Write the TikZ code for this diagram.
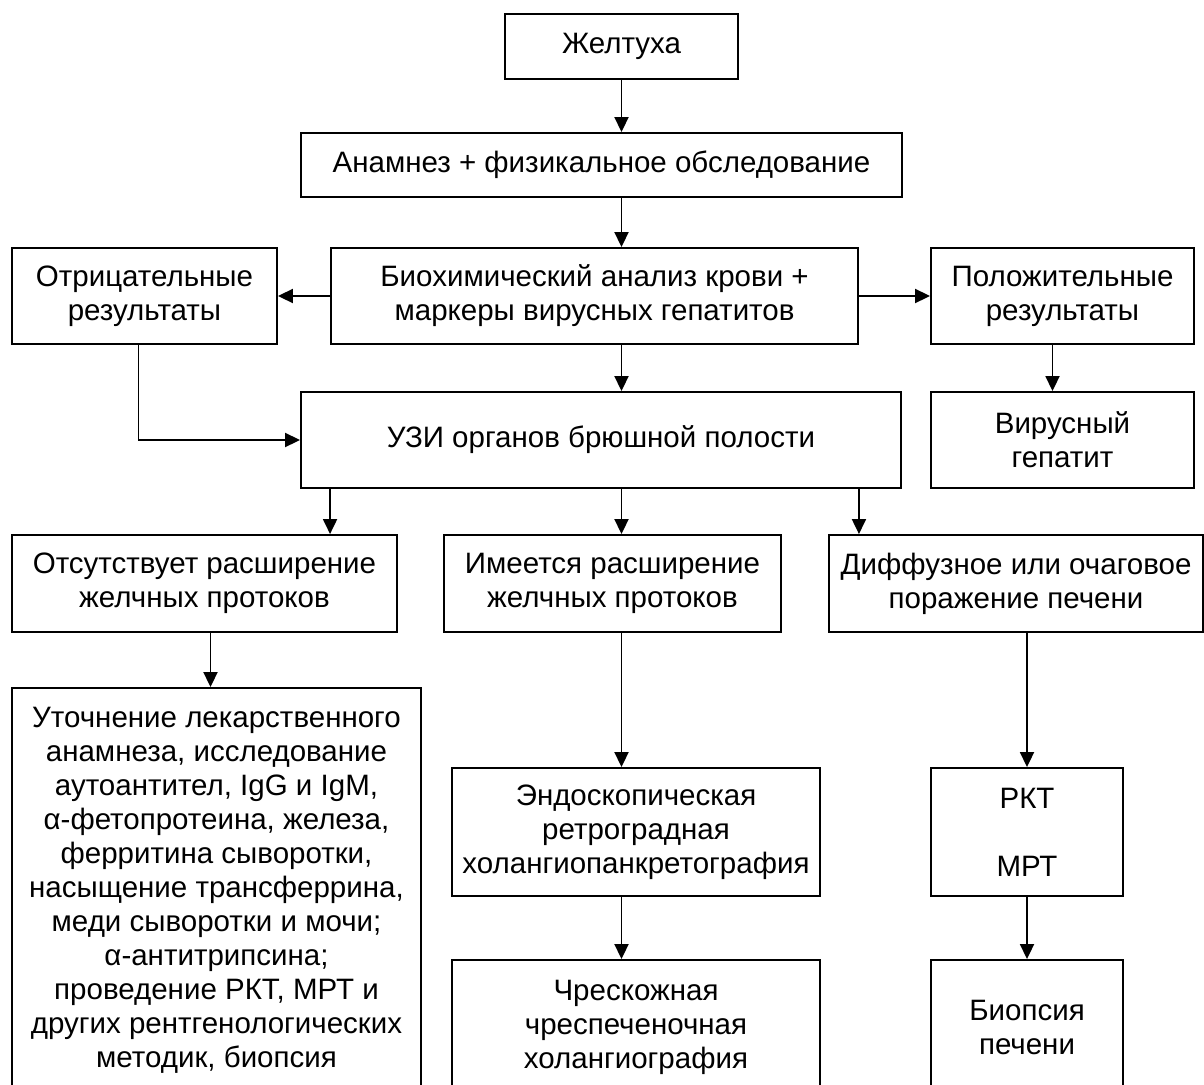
\documentclass[tikz,border=0pt]{standalone}
\usepackage{fontspec}
\setmainfont{Liberation Sans}
\usetikzlibrary{arrows.meta,positioning}

\begin{document}
\begin{tikzpicture}[x=1pt,y=-1pt,>={Triangle[length=15pt,width=14pt]},line width=1.9pt,
  box/.style={draw,rectangle,inner sep=0pt,align=center,font=\fontsize{29.5}{34}\selectfont}]

  \useasboundingbox (0,0) rectangle (1204,1084);
  \clip (0,0) rectangle (1204,1084);

  \node[box] (1) at (621.5,46.5) [minimum width=233, minimum height=65] {Желтуха};
  \node[box] (2) at (601.5,165) [minimum width=601, minimum height=64] {Анамнез + физикальное обследование};
  \node[box] (3) at (144.5,296) [minimum width=265, minimum height=96] {Отрицательные\\результаты};
  \node[box] (4) at (594.5,296) [minimum width=527, minimum height=96] {Биохимический анализ крови +\\маркеры вирусных гепатитов};
  \node[box] (5) at (1062.5,296) [minimum width=263, minimum height=96] {Положительные\\результаты};
  \node[box] (6) at (601,440) [minimum width=600, minimum height=96] {УЗИ органов брюшной полости};
  \node[box] (7) at (1062.5,440) [minimum width=263, minimum height=96] {Вирусный\\гепатит};
  \node[box] (8) at (204.5,583.5) [minimum width=385, minimum height=97] {Отсутствует расширение\\желчных протоков};
  \node[box] (9) at (612.5,583.5) [minimum width=337, minimum height=97] {Имеется расширение\\желчных протоков};
  \node[box] (10) at (1016,583.5) [minimum width=374, minimum height=97] {Диффузное или очаговое\\поражение печени};
  \node[box] (11) at (216.5,890) [minimum width=409, minimum height=404] {Уточнение лекарственного\\анамнеза, исследование\\аутоантител, IgG и IgM,\\α-фетопротеина, железа,\\ферритина сыворотки,\\насыщение трансферрина,\\меди сыворотки и мочи;\\α-антитрипсина;\\проведение РКТ, МРТ и\\других рентгенологических\\методик, биопсия};
  \node[box] (12) at (636,832) [minimum width=368, minimum height=128] {Эндоскопическая\\ретроградная\\холангиопанкретография};
  \node[box] (13) at (1027,832) [minimum width=192, minimum height=128] {РКТ\\[34pt]МРТ};
  \node[box] (14) at (636,1027) [minimum width=368, minimum height=134] {Чрескожная\\чреспеченочная\\холангиография};
  \node[box] (15) at (1027,1027) [minimum width=192, minimum height=134] {Биопсия\\печени};

  \draw[->] (1) -- (1 |- 2.north);
  \draw[->] (1 |- 2.south) -- (1 |- 4.north);
  \draw[->] (4.west) -- (3.east);
  \draw[->] (4.east) -- (5.west);
  \draw[->] (1 |- 4.south) -- (1 |- 6.north);
  \draw[->] ([xshift=-6]3.south) |- (6.west);
  \draw[->] ([xshift=-10]5.south) -- ([xshift=-10]7.north);
  \draw[->] (4.west |- 6.south) -- (4.west |- 8.north);
  \draw[->] (1 |- 6.south) -- (1 |- 9.north);
  \draw[->] (4.east |- 6.south) -- (4.east |- 10.north);
  \draw[->] ([xshift=6]8.south) -- ([xshift=6]8.south |- 11.north);
  \draw[->] (1 |- 9.south) -- (1 |- 12.north);
  \draw[->] (13 |- 10.south) -- (13);
  \draw[->] (1 |- 12.south) -- (1 |- 14.north);
  \draw[->] (13) -- (15);

\end{tikzpicture}
\end{document}
